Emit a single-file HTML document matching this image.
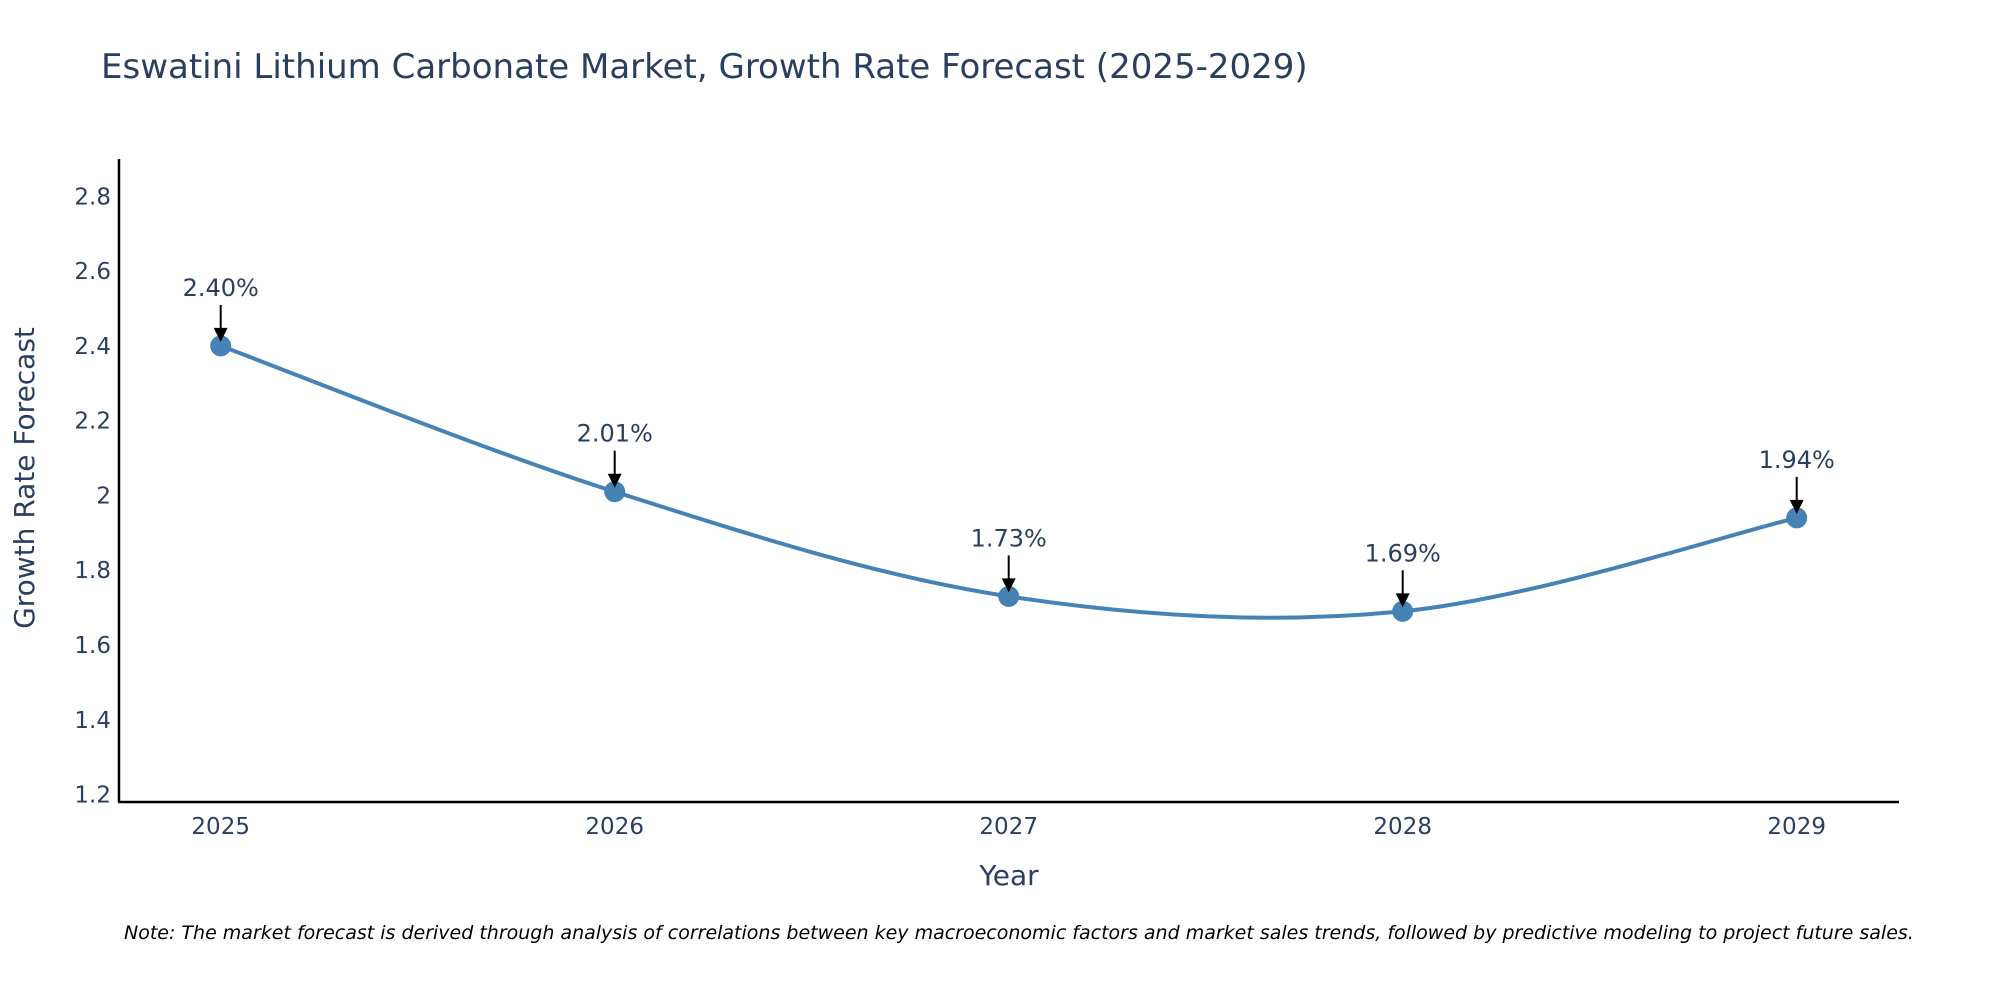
<!DOCTYPE html>
<html><head><meta charset="utf-8"><style>
html,body{margin:0;padding:0;background:#fff;}
svg{display:block;font-family:"DejaVu Sans","Liberation Sans",sans-serif;}
</style></head><body>
<svg id="chart" width="2000" height="1000" viewBox="0 0 2000 1000">
<text x="101" y="78" font-size="34" fill="#2a3f5f">Eswatini Lithium Carbonate Market, Growth Rate Forecast (2025-2029)</text>
<g id="yticks"></g>
<g id="xticks"></g>
<line x1="119" y1="159" x2="119" y2="802" stroke="#000" stroke-width="2.5"/>
<line x1="118" y1="802" x2="1899" y2="802" stroke="#000" stroke-width="2.5"/>
<path id="line" fill="none" stroke="#4682b4" stroke-width="4"/>
<g id="points"></g>
<g id="annots"></g>
<text x="0" y="0" transform="translate(34,478) rotate(-90)" text-anchor="middle" font-size="28" fill="#2a3f5f">Growth Rate Forecast</text>
<text x="1009" y="885" text-anchor="middle" font-size="28" fill="#2a3f5f">Year</text>
<text x="124" y="939" font-size="19" font-style="italic" fill="#000">Note: The market forecast is derived through analysis of correlations between key macroeconomic factors and market sales trends, followed by predictive modeling to project future sales.</text>
</svg>
<script>
const years = [2025, 2026, 2027, 2028, 2029];
const values = [2.40, 2.01, 1.73, 1.69, 1.94];
const valueLabels = ["2.40%", "2.01%", "1.73%", "1.69%", "1.94%"];
const yTicks = [1.2, 1.4, 1.6, 1.8, 2, 2.2, 2.4, 2.6, 2.8];

const NS = "http://www.w3.org/2000/svg";
const yMin = 1.18, yMax = 2.9, pTop = 159, pBot = 802;
const xFirst = 220.7, xStep = 394;
function sy(v){ return pBot - (v - yMin) / (yMax - yMin) * (pBot - pTop); }
function sx(yr){ return xFirst + (yr - years[0]) * xStep; }
function mk(tag, attrs, parent){ const e = document.createElementNS(NS, tag); for (const k in attrs) e.setAttribute(k, attrs[k]); parent.appendChild(e); return e; }

const yt = document.getElementById('yticks');
yTicks.forEach(t => {
  const e = mk('text', {x: 111, y: sy(t) + 8, 'text-anchor': 'end', 'font-size': 23, fill: '#2a3f5f'}, yt);
  
  
  e.textContent = String(t);
});
const xt = document.getElementById('xticks');
years.forEach(y => {
  const e = mk('text', {x: sx(y), y: 834, 'text-anchor': 'middle', 'font-size': 23, fill: '#2a3f5f'}, xt);
  
  
  e.textContent = String(y);
});

const pts = years.map((y, i) => [sx(y), sy(values[i])]);
let d = `M${pts[0][0]},${pts[0][1]}`;
const s = 1/6;
for (let i = 0; i < pts.length - 1; i++) {
  const p0 = pts[Math.max(i-1,0)], p1 = pts[i], p2 = pts[i+1], p3 = pts[Math.min(i+2, pts.length-1)];
  const c1 = [p1[0] + (p2[0]-p0[0])*s, p1[1] + (p2[1]-p0[1])*s];
  const c2 = [p2[0] - (p3[0]-p1[0])*s, p2[1] - (p3[1]-p1[1])*s];
  d += ` C${c1[0]},${c1[1]} ${c2[0]},${c2[1]} ${p2[0]},${p2[1]}`;
}
document.getElementById('line').setAttribute('d', d);

const pg = document.getElementById('points');
const ag = document.getElementById('annots');
pts.forEach((p, i) => {
  const c = mk('circle', {cx: p[0], cy: p[1], r: 10.5, fill: '#4682b4'}, pg);
  
  
  const l = mk('line', {x1: p[0], y1: p[1] - 41, x2: p[0], y2: p[1] - 16, stroke: '#000', 'stroke-width': 2}, ag);
  
  
  const h = mk('polygon', {points: `${p[0]-7},${p[1]-18} ${p[0]+7},${p[1]-18} ${p[0]},${p[1]-4}`, fill: '#000'}, ag);
  
  
  const t = mk('text', {x: p[0], y: p[1] - 50, 'text-anchor': 'middle', 'font-size': 24, fill: '#2a3f5f'}, ag);
  
  
  t.textContent = valueLabels[i];
});
</script>
</body></html>
